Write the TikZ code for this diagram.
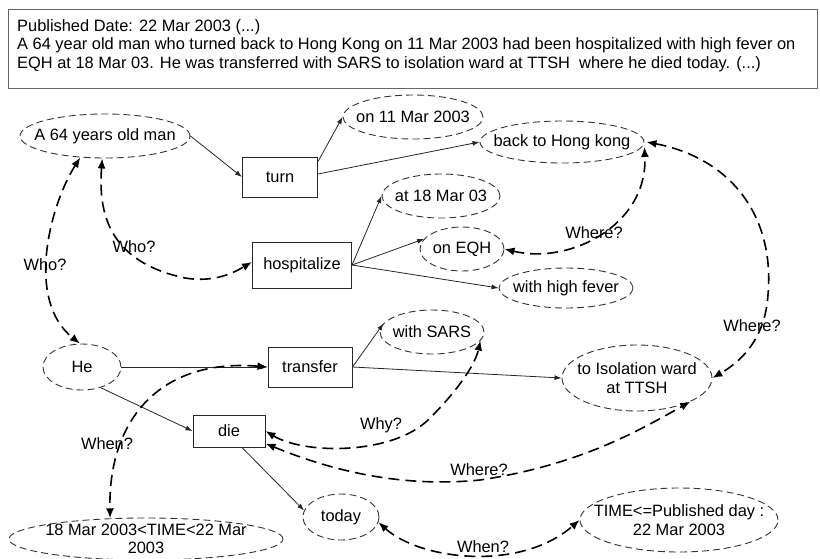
\documentclass[tikz,border=0pt]{standalone}
\usepackage{fontspec}
\setmainfont{Liberation Sans}
\usetikzlibrary{arrows.meta,calc,shapes.geometric}
\tikzset{
  ell/.style={ellipse, draw=black!80, dash pattern=on 7pt off 4pt, line width=0.9pt, inner sep=0pt},
  elltext/.style={inner sep=0pt, align=center},
  boxnode/.style={rectangle, draw=black!85, line width=1pt, inner sep=0pt},
  sol/.style={-{Latex[length=7pt,width=5pt]}, line width=0.8pt, draw=black!85},
  qa/.style={{Latex[length=10pt,width=8pt]}-{Latex[length=10pt,width=8pt]}, line width=1.6pt, dash pattern=on 11pt off 6pt},
  lab/.style={inner sep=0pt},
  hdrline/.style={anchor=base west, inner sep=0pt}
}
\begin{document}
\begin{tikzpicture}[x=1pt,y=-1pt, font=\fontsize{16.4}{18.5}\selectfont]
\useasboundingbox (0,0) rectangle (820,558);

% header
\node[draw=black!60, line width=1.3pt, minimum width=809, minimum height=79, anchor=north west, inner sep=0pt] (hdr) at (8,9) {};
\node[hdrline] (h1) at (17,31) {Published Date: 22 Mar 2003 (...)};
\node[hdrline] (h2) at (17,49.5) {A 64 year old man who turned back to Hong Kong on 11 Mar 2003 had been hospitalized with high fever on};
\node[hdrline] (h3) at (17,68) {EQH at 18 Mar 03. He was transferred with SARS to isolation ward at TTSH~ where he died today. (...)};

% ellipse nodes
\node[ell, minimum width=170, minimum height=44, label={[elltext]center:A 64 years old man}] (man) at (105,136) {};
\node[ell, minimum width=140, minimum height=44, label={[elltext]center:on 11 Mar 2003}] (on11) at (413,117) {};
\node[ell, minimum width=164, minimum height=42, label={[elltext]center:back to Hong kong}] (hk) at (562,142) {};
\node[ell, minimum width=118, minimum height=44, label={[elltext]center:at 18 Mar 03}] (at18) at (441,196) {};
\node[ell, minimum width=84, minimum height=44, label={[elltext]center:on EQH}] (eqh) at (462,249) {};
\node[ell, minimum width=134, minimum height=40, label={[elltext]center:with high fever}] (fever) at (566,288) {};
\node[ell, minimum width=78, minimum height=46, label={[elltext]center:He}] (he) at (82,367) {};
\node[ell, minimum width=104, minimum height=44, label={[elltext]center:with SARS}] (sars) at (432,332) {};
\node[ell, minimum width=150, minimum height=66, label={[elltext]center:{to Isolation ward\\at TTSH}}] (iso) at (637,378) {};
\node[ell, minimum width=76, minimum height=46, label={[elltext]center:today}] (today) at (341,517) {};
\node[ell, minimum width=274, minimum height=42, label={[elltext]center:{18 Mar 2003<TIME<22 Mar\\2003}}] (t1) at (146,539) {};
\node[ell, minimum width=198, minimum height=64, label={[elltext]center:{TIME<=Published day :\\22 Mar 2003}}] (tp) at (679,520) {};

% boxes
\node[boxnode, minimum width=75, minimum height=40] (turn) at (280,177) {turn};
\node[boxnode, minimum width=99, minimum height=46] (hosp) at (302,265) {hospitalize};
\node[boxnode, minimum width=84, minimum height=40] (transfer) at (310,367) {transfer};
\node[boxnode, minimum width=72, minimum height=32] (die) at (229,431) {die};

% solid arrows
\draw[sol] (man.east) -- (turn.west);
\draw[sol] ([yshift=-5pt]turn.north east) -- (on11.west);
\draw[sol] ([yshift=3pt]turn.east) -- (hk.west);
\draw[sol] (hosp.east) -- (at18.west);
\draw[sol] (hosp.east) -- (eqh.165);
\draw[sol] (hosp.east) -- (fever.west);
\draw[sol] (he.east) -- (transfer.west);
\draw[sol] (transfer.east) -- (sars.170);
\draw[sol] (transfer.east) -- (iso.west);
\draw[sol] (he.-48) -- (die.west);
\draw[sol] ([xshift=13pt]die.south) -- (today.170);

% question arrows
\draw[qa] (man.-139) .. controls (50,205) and (25,300) .. (he.95);
\node[lab] (qwho1) at (45,265) {Who?};
\draw[qa] (man.-97) .. controls (98,215) and (110,262) .. (185,278) .. controls (215,283) and (235,272) .. ([yshift=3pt]hosp.west);
\node[lab] (qwho2) at (134,247) {Who?};
\draw[qa] (eqh.east) .. controls (570,265) and (648,225) .. ([yshift=-5pt]hk.east);
\node[lab] (qwh1) at (594,233) {Where?};
\draw[qa] ([xshift=2pt]hk.east) .. controls (730,158) and (775,215) .. (768,295) .. controls (765,340) and (740,362) .. (iso.east);
\node[lab] (qwh2) at (752,326) {Where?};
\draw[qa] (transfer.west) .. controls (160,358) and (108,420) .. (t1.150);
\node[lab] (qwhen1) at (107,444) {When?};
\draw[qa] (die.east) .. controls (305,455) and (395,455) .. (430,418) .. controls (458,390) and (475,365) .. (sars.-10);
\node[lab] (qwhy) at (381,425) {Why?};
\draw[qa] ([yshift=4pt]die.south east) .. controls (330,470) and (400,488) .. (480,480) .. controls (580,465) and (640,430) .. (iso.-24);
\node[lab] (qwh3) at (479,470) {Where?};
\draw[qa] (today.-8) .. controls (420,560) and (520,572) .. (tp.west);
\node[lab] (qwhen2) at (483,547) {When?};
\end{tikzpicture}
\end{document}
